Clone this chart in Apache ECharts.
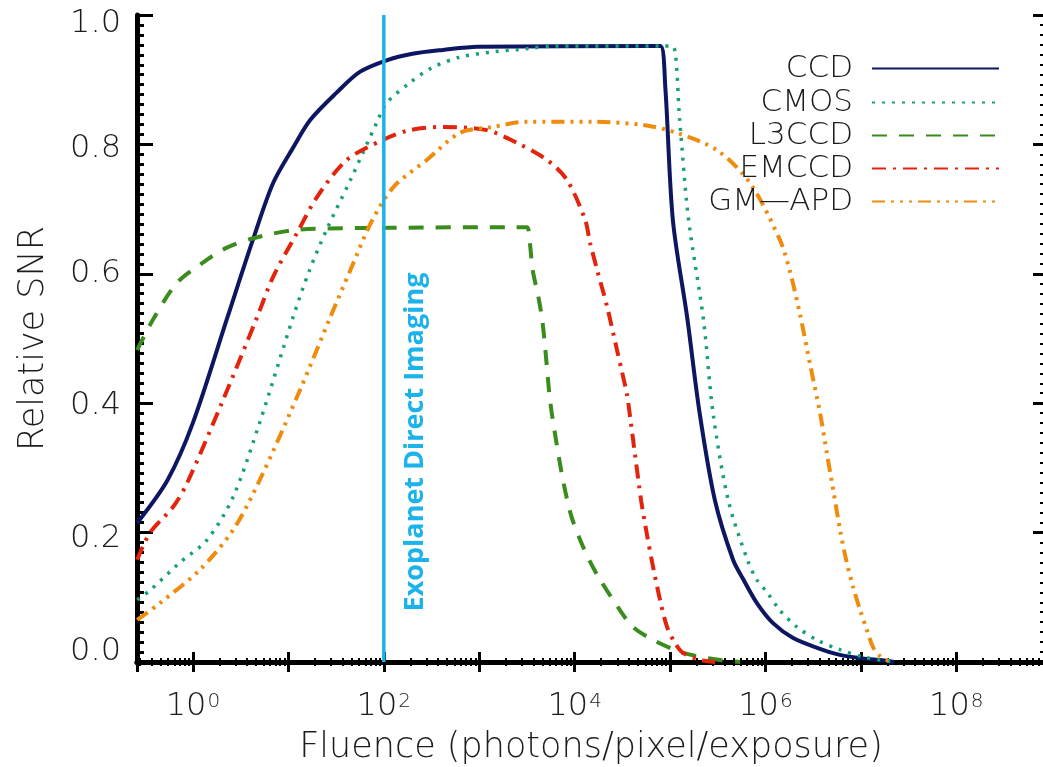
<!DOCTYPE html>
<html>
<head>
<meta charset="utf-8">
<script src="https://cdn.jsdelivr.net/npm/echarts@6/dist/echarts.min.js"></script>
<style>
html,body{margin:0;padding:0;background:#fff;}
#chart{width:1043px;height:767px;}
</style>
</head>
<body>
<div id="chart"></div>
<script>
// ---------- data (fluence in photons/pixel/exposure, relative SNR) ----------
const seriesNames = ['CCD', 'CMOS', 'L3CCD', 'EMCCD', 'GM\u2014APD'];

const ccdFluence = [0.26, 0.54, 1, 2.3, 4.3, 6.9, 11.2, 17, 32, 56, 107, 200, 417, 955, 60000, 79400, 89100, 107000, 151000, 204000, 295000, 457000, 589000, 813000, 1.2e6, 1.95e6, 3.47e6, 6.03e6, 9.77e6, 1.58e7, 2.24e7];
const ccdSNR     = [0.215, 0.281, 0.37, 0.533, 0.655, 0.74, 0.795, 0.838, 0.88, 0.912, 0.93, 0.94, 0.946, 0.951, 0.952, 0.952, 0.889, 0.683, 0.533, 0.385, 0.25, 0.158, 0.127, 0.091, 0.060, 0.037, 0.022, 0.011, 0.006, 0.003, 0.0];

const cmosFluence = [0.26, 0.355, 0.72, 1.41, 2.63, 5.0, 11.2, 16.6, 25.1, 44.7, 85.1, 107, 186, 316, 631, 1410, 3160, 6310, 85000, 107000, 126000, 155000, 224000, 282000, 407000, 646000, 813000, 1.05e6, 1.41e6, 2.14e6, 3.47e6, 6.03e6, 1.05e7, 1.58e7, 2.24e7];
const cmosSNR     = [0.096, 0.111, 0.153, 0.189, 0.255, 0.37, 0.533, 0.605, 0.668, 0.745, 0.835, 0.864, 0.895, 0.918, 0.935, 0.943, 0.948, 0.952, 0.952, 0.952, 0.838, 0.688, 0.529, 0.385, 0.25, 0.158, 0.127, 0.107, 0.080, 0.054, 0.034, 0.019, 0.008, 0.003, 0.0];

const l3ccdFluence = [0.26, 0.38, 0.68, 1.26, 2.24, 4.3, 12.3, 107, 2400, 3160, 3390, 3630, 4170, 4570, 4900, 5520, 6380, 7550, 9160, 11400, 14500, 18500, 29900, 40900, 66400, 137000, 334000, 542000];
const l3ccdSNR     = [0.482, 0.529, 0.586, 0.617, 0.64, 0.655, 0.668, 0.671, 0.672, 0.672, 0.648, 0.606, 0.564, 0.529, 0.487, 0.405, 0.343, 0.281, 0.227, 0.189, 0.155, 0.127, 0.080, 0.054, 0.034, 0.014, 0.003, 0.0];

const emccdFluence = [0.26, 0.355, 0.62, 0.87, 2.0, 4.7, 6.9, 12.3, 20, 41, 98, 186, 417, 1200, 2510, 5130, 8320, 12900, 14500, 17200, 21900, 27800, 31400, 35400, 38100, 43000, 49700, 57400, 64700, 78500, 93100, 113000, 137000, 206000, 296000];
const emccdSNR     = [0.158, 0.2, 0.24, 0.277, 0.40, 0.533, 0.595, 0.663, 0.719, 0.776, 0.807, 0.822, 0.827, 0.822, 0.802, 0.776, 0.745, 0.683, 0.648, 0.606, 0.549, 0.482, 0.448, 0.413, 0.379, 0.32, 0.25, 0.196, 0.155, 0.096, 0.054, 0.029, 0.014, 0.003, 0.0];

const gmapdFluence = [0.26, 0.45, 1.17, 2.63, 5.0, 13.2, 27.5, 44.7, 74, 126, 282, 631, 1380, 3160, 15800, 52500, 117000, 311000, 690000, 1.42e6, 1.81e6, 2.31e6, 2.94e6, 3.73e6, 4.43e6, 5.24e6, 6.05e6, 7.0e6, 8.28e6, 9.82e6, 1.16e7, 1.34e7, 1.59e7, 1.88e7, 2.18e7];
const gmapdSNR     = [0.065, 0.091, 0.142, 0.204, 0.281, 0.42, 0.533, 0.606, 0.68, 0.734, 0.776, 0.818, 0.827, 0.835, 0.835, 0.830, 0.818, 0.791, 0.74, 0.652, 0.603, 0.536, 0.459, 0.385, 0.32, 0.258, 0.204, 0.158, 0.116, 0.080, 0.049, 0.023, 0.009, 0.003, 0.0];

const markerFluence = 100;
const markerLabel = 'Exoplanet Direct Imaging';

const xTickExponents = [0, 2, 4, 6, 8];
const yTickLabels = ['0.0', '0.2', '0.4', '0.6', '0.8', '1.0'];
const xAxisTitle = 'Fluence (photons/pixel/exposure)';
const yAxisTitle = 'Relative SNR';

// ---------- styles ----------
const colors = ['#0d1660', '#17a07a', '#3a8c1c', '#e3230b', '#f08c0c'];
const dashes = ['solid', [3, 7], [15, 12], [14, 7, 3, 7], [13, 6, 3, 6, 3, 6, 3, 6]];
const widths = [4, 3.5, 4, 4, 4];
const allFluence = [ccdFluence, cmosFluence, l3ccdFluence, emccdFluence, gmapdFluence];
const allSNR = [ccdSNR, cmosSNR, l3ccdSNR, emccdSNR, gmapdSNR];

const FONT = 'DejaVu Sans';
const TXT = '#1c1c1c';
const xMin = 0.259, xMax = 8.5e8;

// vertical nudges of the y tick labels (px, + = down), as in the original
const yLabelShift = [-10, 6, 2, 0, 4, 9];
const yRich = {};
yLabelShift.forEach((d, i) => {
  yRich['y' + i] = {
    fontSize: 32, fontFamily: FONT, fontWeight: 200, color: TXT,
    padding: d >= 0 ? [2 * d, 0, 0, 0] : [0, 0, -2 * d, 0]
  };
});

const series = seriesNames.map((name, i) => ({
  name: name,
  type: 'line',
  data: allFluence[i].map((f, k) => [f, allSNR[i][k]]),
  symbol: 'none',
  smooth: 0.3,
  lineStyle: { color: colors[i], width: widths[i], type: dashes[i] },
  itemStyle: { color: colors[i] },
  z: 3,
  silent: true
}));
series.push({
  name: markerLabel,
  type: 'line',
  data: [[markerFluence, 0], [markerFluence, 1]],
  symbol: 'none',
  lineStyle: { color: '#1cb2ea', width: 3.5 },
  z: 6,
  silent: true
});

const legendRows = [70, 104, 137, 170, 203];
const legends = seriesNames.map((name, i) => ({
  data: [name],
  right: 43,
  top: legendRows[i] - 17,
  orient: 'horizontal',
  align: 'right',
  padding: 0,
  itemWidth: 127,
  itemHeight: 14,
  selectedMode: false,
  itemStyle: { opacity: 0, color: 'rgba(0,0,0,0)', borderWidth: 0 },
  textStyle: { fontSize: 31, fontFamily: FONT, fontWeight: 200, color: TXT, padding: [0, 14, 0, 0] }
}));

const chart = echarts.init(document.getElementById('chart'), null, { renderer: 'canvas' });
chart.setOption({
  animation: false,
  backgroundColor: '#ffffff',
  grid: { left: 137, right: -2, top: 15, bottom: 105, containLabel: false, outerBoundsMode: 'none' },
  legend: legends,
  xAxis: [
    {
      type: 'log', logBase: 10, min: xMin, max: xMax, position: 'bottom',
      axisLine: { show: true, lineStyle: { color: '#000', width: 5 } },
      axisTick: { show: true, inside: true, length: 10, lineStyle: { color: '#000', width: 3 } },
      minorTick: { show: true, splitNumber: 10, length: 4, lineStyle: { color: '#000', width: 2 } },
      splitLine: { show: false },
      minorSplitLine: { show: false },
      axisLabel: {
        show: true, margin: 27, verticalAlign: 'top', showMinLabel: false, showMaxLabel: false,
        formatter: function (v) {
          const e = Math.round(Math.log10(v));
          if (Math.abs(Math.log10(v) - e) > 1e-6 || xTickExponents.indexOf(e) < 0) return '';
          return '{b|10}{s|' + e + '}';
        },
        rich: {
          b: { fontSize: 32, lineHeight: 36, fontFamily: FONT, fontWeight: 200, color: TXT },
          s: { fontSize: 20, lineHeight: 20, fontFamily: FONT, fontWeight: 200, color: TXT, padding: [0, 0, 10, 1] }
        }
      },
      name: xAxisTitle, nameLocation: 'middle', nameGap: 68, nameMoveOverlap: false,
      nameTextStyle: { fontSize: 35, fontFamily: FONT, fontWeight: 200, color: TXT }
    },
    {
      type: 'log', logBase: 10, min: xMin, max: xMax, position: 'top',
      axisLine: { show: true, lineStyle: { color: '#000', width: 5 } },
      axisTick: { show: true, inside: true, length: 10, lineStyle: { color: '#000', width: 3 } },
      minorTick: { show: true, splitNumber: 10, length: 4, lineStyle: { color: '#000', width: 2 } },
      splitLine: { show: false },
      axisLabel: { show: false }
    }
  ],
  yAxis: [
    {
      type: 'value', min: 0, max: 1, interval: 0.2, position: 'left',
      axisLine: { show: true, lineStyle: { color: '#000', width: 5 } },
      axisTick: { show: true, inside: true, length: 16, lineStyle: { color: '#000', width: 3 } },
      minorTick: { show: true, splitNumber: 13, length: 7, lineStyle: { color: '#000', width: 3 } },
      splitLine: { show: false },
      axisLabel: {
        margin: 16, fontSize: 32, fontFamily: FONT, fontWeight: 200, color: TXT,
        formatter: function (v) {
          const i = Math.round(v / 0.2);
          return '{y' + i + '|' + yTickLabels[i] + '}';
        },
        rich: yRich
      },
      name: yAxisTitle, nameLocation: 'middle', nameGap: 86, nameMoveOverlap: false,
      nameTextStyle: { fontSize: 35, fontFamily: FONT, fontWeight: 200, color: TXT }
    },
    {
      type: 'value', min: 0, max: 1, interval: 0.2, position: 'right',
      axisLine: { show: true, lineStyle: { color: '#000', width: 5 } },
      axisTick: { show: true, inside: true, length: 12, lineStyle: { color: '#000', width: 3 } },
      minorTick: { show: true, splitNumber: 13, length: 5, lineStyle: { color: '#000', width: 2 } },
      splitLine: { show: false },
      axisLabel: { show: false }
    }
  ],
  series: series
});

const p = chart.convertToPixel({ xAxisIndex: 0, yAxisIndex: 0 }, [markerFluence, 0.34]);
chart.setOption({
  graphic: [{
    type: 'text',
    x: p[0] + 31, y: p[1],
    rotation: Math.PI / 2,
    silent: true,
    style: {
      text: markerLabel,
      fontSize: 27, fontWeight: 'bold', fontFamily: 'Open Sans',
      fill: '#1cb2ea',
      textAlign: 'center', textVerticalAlign: 'middle'
    }
  }]
});
</script>
</body>
</html>
